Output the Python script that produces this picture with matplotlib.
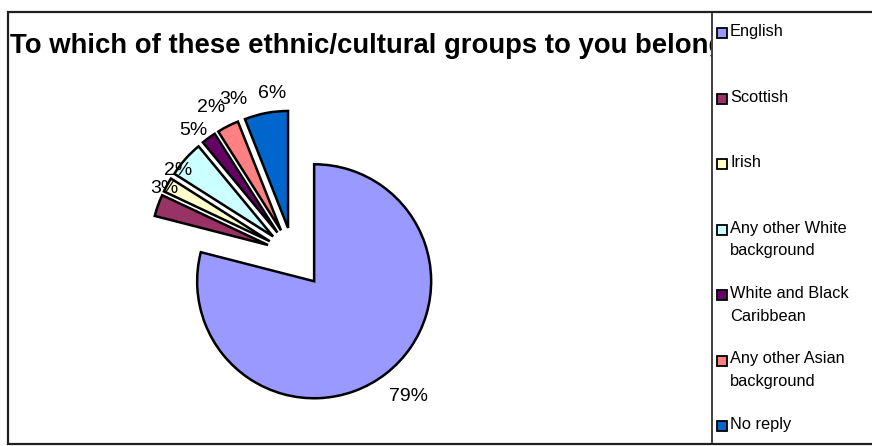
import matplotlib
matplotlib.use("Agg")
from matplotlib import pyplot as plt
from matplotlib.patches import Rectangle
from matplotlib.transforms import Bbox, TransformedBbox
import numpy as np

plt.rcParams['font.family'] = ['Liberation Sans', 'DejaVu Sans']

title = "To which of these ethnic/cultural groups to you belong"
groups = ['English', 'Scottish', 'Irish', 'Any other White\nbackground',
          'White and Black\nCaribbean', 'Any other Asian\nbackground', 'No reply']
shares = [79, 3, 2, 5, 2, 3, 6]
colours = ['#9999FF', '#993366', '#FFFFCC', '#CCFFFF', '#660066', '#FF8080', '#0066CC']

W, H = 872, 446
fig = plt.figure(figsize=(W / 100, H / 100), dpi=100)
ax = fig.add_axes([0, 0, 1, 1])

# pixel helpers: y measured from the top
def py(y):
    return H - y

# pie: everything but the big slice is pulled out (offsets in pixels)
radius = 117
explode = [34.5] + [26.5] * (len(shares) - 1)
wedges, _ = ax.pie(shares, colors=colours, explode=explode, startangle=90,
                   counterclock=False, radius=radius, center=(293, py(254)),
                   wedgeprops=dict(edgecolor='black', linewidth=1.8),
                   frame=True)
ax.set_xlim(0, W)
ax.set_ylim(0, H)
ax.set_aspect('equal')
ax.set_axis_off()

# chart frame and the legend divider
frame_l, frame_t, frame_b, divider = 8, 12, 444, 712
ax.plot([W + 2, frame_l, frame_l, W + 2], [py(frame_t), py(frame_t), py(frame_b), py(frame_b)],
        color='#202020', lw=1.6, solid_joinstyle='miter')
ax.plot([divider, divider], [py(frame_t), py(frame_b)], color='#202020', lw=1.2)

# title, cut off by the legend box like the spreadsheet does
t = ax.text(10, py(46), title, fontsize=19.8, fontweight='bold', va='center', ha='left')
t.set_clip_box(TransformedBbox(Bbox([[frame_l, 0], [divider - 1, H]]), ax.transData))
t.set_clip_on(True)

# percentage labels, nudged the way the original layout puts them
label_dist = [1.27, 1.01, 0.99, 1.13, 1.21, 1.19, 1.16]
label_turn = [1.5, -9, -9, -11.6, -8, -7, -4]
for w, v, d, turn in zip(wedges, shares, label_dist, label_turn):
    ang = np.deg2rad((w.theta1 + w.theta2) / 2 + turn)
    cx, cy = w.center
    ax.text(cx + d * radius * np.cos(ang), cy + d * radius * np.sin(ang), f"{v}%",
            fontsize=14, ha='center', va='center')

# legend drawn by hand so the key sits level with the first text line
leg_top, leg_step = 33, 65.5
for i, (name, c) in enumerate(zip(groups, colours)):
    y = leg_top + i * leg_step
    ax.add_patch(Rectangle((717, py(y) - 5), 10, 10, facecolor=c, edgecolor='black', lw=1.3))
    ax.text(730, py(y) + 9, name, fontsize=11.8, ha='left', va='top', linespacing=1.65)

fig.savefig('out.png', dpi=100)
